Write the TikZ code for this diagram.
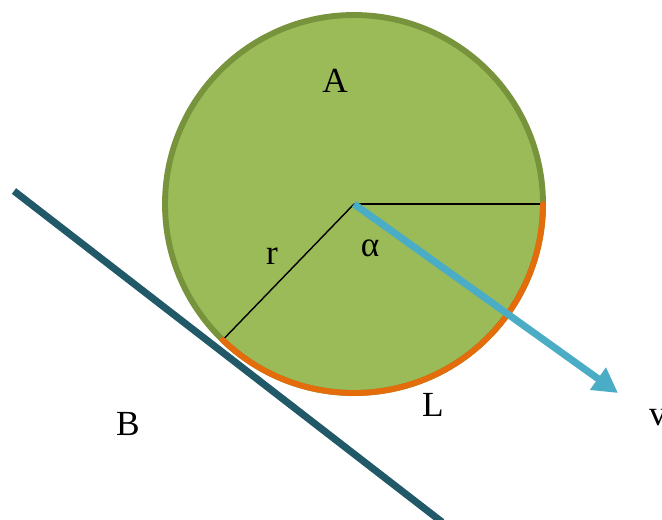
\documentclass[tikz,border=0pt]{standalone}
\usepackage{fontspec}
\setmainfont{Liberation Serif}
\usetikzlibrary{arrows.meta}
\definecolor{wheelgreen}{RGB}{155,187,89}
\definecolor{wheeledge}{RGB}{119,147,60}
\definecolor{contactorange}{RGB}{228,108,10}
\definecolor{slopeteal}{RGB}{33,89,104}
\definecolor{speedblue}{RGB}{75,172,198}

\begin{document}
\begin{tikzpicture}[
			x=0.85pt, y=-0.85pt,
			label/.style={inner sep=0pt, font=\fontsize{30}{36}\selectfont},
			radius line/.style={black, line width=1.2pt},
			arrow/.style={-{Triangle[length=21pt, width=22pt]}}
			]
			\clip (0,0) rectangle (662,519);
			\useasboundingbox (0,0) rectangle (662,519);
			\coordinate (centre) at (354,204);
			\coordinate (slopetop) at (14,191);
			\coordinate (slopebottom) at (442,522);
			\coordinate (tip) at (618,393);
			
			\draw[slopeteal, line width=6pt] (slopetop) -- (slopebottom);
			\draw[wheeledge, fill=wheelgreen, line width=5pt] (centre) circle[radius=189];
			\draw[radius line] (centre) -- ++(0:192) coordinate (rim);
			\draw[radius line] (centre) -- ++(134:189) coordinate (contact);
			\draw[contactorange, line width=5pt, line cap=round] (contact) arc[start angle=134, end angle=0, radius=189];
			\draw[speedblue, line width=6pt, arrow] (centre) -- (tip);
			
			\node[label] (a) at (335,81) {A};
			\node[label] (r) at (272,256) {r};
			\node[label] (alpha) at (370,248) {α};
			\node[label] (l) at (433,405) {L};
			\node[label] (b) at (128,424) {B};
			\node[label, anchor=base west] (v) at (649,425) {v};
		\end{tikzpicture}
\end{document}
